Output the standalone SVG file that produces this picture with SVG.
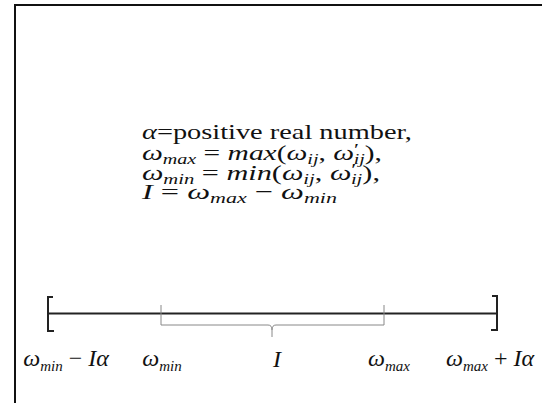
<svg xmlns="http://www.w3.org/2000/svg" width="542" height="403" viewBox="0 0 542 403">
<style>
.t{font-family:"Liberation Serif","Times New Roman",serif;font-size:22px;fill:#111}
.l{font-size:24px}
.m{font-style:italic}
.s{font-size:15px;font-style:italic}
.p{font-size:17px}
.c{text-anchor:middle}
.frame{fill:none;stroke:#111;stroke-width:2}
.axis{fill:none;stroke:#222;stroke-width:2}
.brace{fill:none;stroke:#888;stroke-width:1}
</style>
<rect width="542" height="403" fill="#fff"/>
<path class="frame" d="M15,403 V5 H542"/>
<g id="definitions">
<text class="t" x="142" y="139" textLength="270" lengthAdjust="spacingAndGlyphs"><tspan class="m">α</tspan>=positive real number,</text>
<text class="t" x="142" y="160" textLength="240" lengthAdjust="spacingAndGlyphs"><tspan class="m">ω</tspan><tspan class="s" dy="4">max</tspan><tspan dy="-4"> = </tspan><tspan class="m">max</tspan>(<tspan class="m">ω</tspan><tspan class="s" dy="4">ij</tspan><tspan dy="-4">, </tspan><tspan class="m">ω</tspan><tspan class="p" dy="-5">′</tspan><tspan class="s" dx="-4" dy="9">ij</tspan><tspan dy="-4">),</tspan></text>
<text class="t" x="142" y="180" textLength="238" lengthAdjust="spacingAndGlyphs"><tspan class="m">ω</tspan><tspan class="s" dy="4">min</tspan><tspan dy="-4"> = </tspan><tspan class="m">min</tspan>(<tspan class="m">ω</tspan><tspan class="s" dy="4">ij</tspan><tspan dy="-4">, </tspan><tspan class="m">ω</tspan><tspan class="p" dy="-5">′</tspan><tspan class="s" dx="-4" dy="9">ij</tspan><tspan dy="-4">),</tspan></text>
<text class="t" x="142" y="199" textLength="195" lengthAdjust="spacingAndGlyphs"><tspan class="m">I</tspan> = <tspan class="m">ω</tspan><tspan class="s" dy="4">max</tspan><tspan dy="-4"> − </tspan><tspan class="m">ω</tspan><tspan class="s" dy="4">min</tspan></text>
</g>
<g id="connectors">
<path class="axis" d="M48,313.5 H497"/>
<path class="brace" d="M161,305 V325 H268 Q272,325 272,330 V337 M272,330 Q272,325 276,325 H384 V305"/>
</g>
<g id="left-bracket"><path class="axis" d="M53,297 H48 V331 H54"/></g>
<g id="right-bracket"><path class="axis" d="M492,296 H497 V330 H491"/></g>
<g id="labels">
<text class="t l c" x="66" y="366"><tspan class="m">ω</tspan><tspan class="s" dy="5">min</tspan><tspan dy="-5"> − </tspan><tspan class="m">Iα</tspan></text>
<text class="t l c" x="162" y="366"><tspan class="m">ω</tspan><tspan class="s" dy="5">min</tspan></text>
<text class="t l m c" x="277" y="367">I</text>
<text class="t l c" x="389" y="366"><tspan class="m">ω</tspan><tspan class="s" dy="5">max</tspan></text>
<text class="t l c" x="490" y="366"><tspan class="m">ω</tspan><tspan class="s" dy="5">max</tspan><tspan dy="-5"> + </tspan><tspan class="m">Iα</tspan></text>
</g>
</svg>
